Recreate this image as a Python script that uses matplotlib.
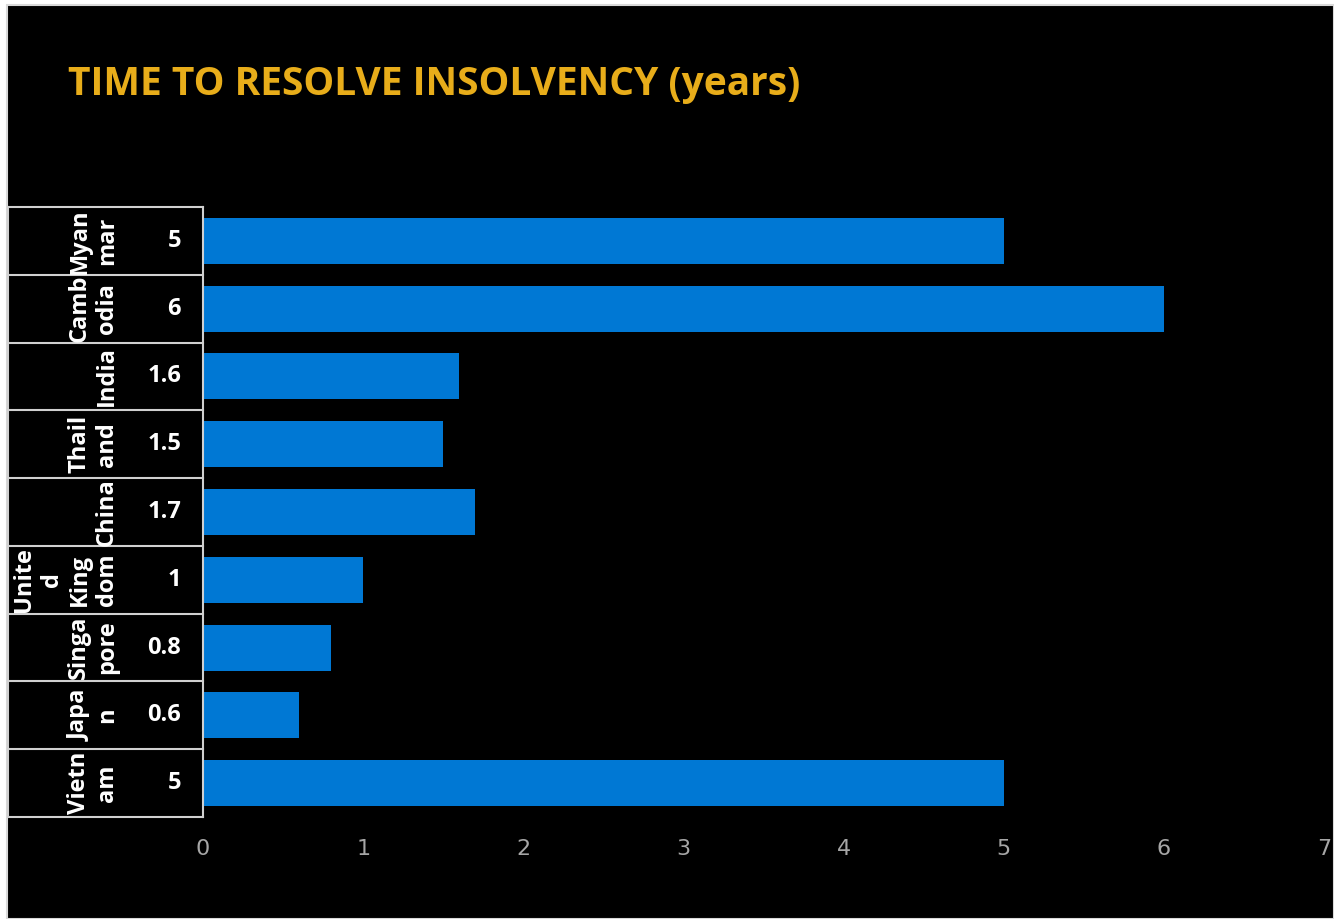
import matplotlib.pyplot as plt
from matplotlib.patches import Rectangle

# data, top to bottom as shown in the chart
countries = ['Myan\nmar', 'Camb\nodia', 'India', 'Thail\nand', 'China',
             'Unite\nd\nKing\ndom', 'Singa\npore', 'Japa\nn', 'Vietn\nam']
years = [5, 6, 1.6, 1.5, 1.7, 1, 0.8, 0.6, 5]
value_labels = ['5', '6', '1.6', '1.5', '1.7', '1', '0.8', '0.6', '5']
xticks = [0, 1, 2, 3, 4, 5, 6, 7]

W, H = 1334, 919
fig = plt.figure(figsize=(W / 100, H / 100), dpi=100)
fig.patch.set_facecolor('white')
fig.patches.append(Rectangle((7 / W, 0), 1 - 7 / W, 1 - 5 / H, transform=fig.transFigure,
                             facecolor='black', edgecolor='#d9d9d9', linewidth=1.5, zorder=-10))

ax = fig.add_axes([203 / W, 1 - 817 / H, 1121 / W, 610 / H])
ax.set_facecolor('black')

n = len(years)
ypos = list(range(n - 1, -1, -1))
ax.barh(ypos, years, height=0.68, color='#0078D4')

ax.set_xlim(0, 7)
ax.set_ylim(-0.5, n - 0.5)
ax.set_xticks(xticks)
ax.set_xticklabels([str(t) for t in xticks], family=['Liberation Sans Narrow', 'DejaVu Sans'],
                   fontsize=16, color='#a6a6a6')
ax.tick_params(axis='x', length=0, pad=16)
ax.set_yticks([])
for s in ax.spines.values():
    s.set_visible(False)

# table on the left
tr = ax.get_yaxis_transform()
x_left = (8 - 203) / 1121
lc = '#d0d0d0'
for i in range(n + 1):
    ax.plot([x_left, 0], [i - 0.5, i - 0.5], color=lc, lw=1.5, transform=tr, clip_on=False)
ax.plot([x_left, x_left], [-0.5, n - 0.5], color=lc, lw=1.5, transform=tr, clip_on=False)
ax.plot([0, 0], [-0.5, n - 0.5], color=lc, lw=1.5, transform=tr, clip_on=False)

font = ['Open Sans', 'DejaVu Sans']
for y, c, v in zip(ypos, countries, value_labels):
    ax.text((119 - 203) / 1121, y, c, transform=tr, rotation=90, ha='right', va='center',
            multialignment='center', color='white', fontsize=17, fontweight='bold',
            family=font, linespacing=1.2)
    ax.text((181 - 203) / 1121, y, v, transform=tr, ha='right', va='center',
            color='white', fontsize=17, fontweight='bold', family=font)

fig.text(68 / W, 1 - 84 / H, 'TIME TO RESOLVE INSOLVENCY (years)', color='#E8AD1A',
         fontsize=28, fontweight='bold', family=font, ha='left', va='center')

fig.savefig('out.png', dpi=100, facecolor=fig.get_facecolor())
